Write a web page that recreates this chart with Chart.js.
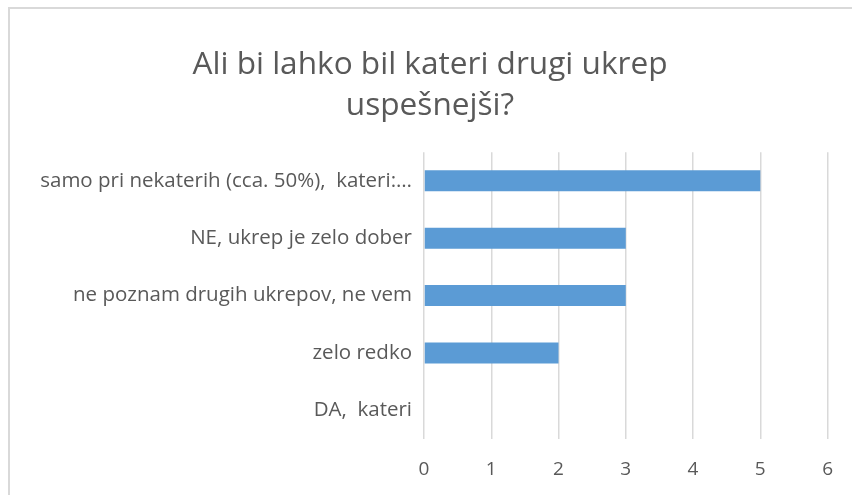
<!DOCTYPE html>
<html>
<head>
<meta charset="utf-8">
<script src="https://cdn.jsdelivr.net/npm/chart.js@4"></script>
<style>
  html, body { margin: 0; padding: 0; background: #fff; }
  #wrap { position: relative; width: 852px; height: 495px; overflow: hidden; }
  #frame { position: absolute; left: 8px; top: 7px; width: 900px; height: 600px;
           border-left: 2px solid #d9d9d9; border-top: 2px solid #d9d9d9; }
  canvas { position: absolute; left: 0; top: 0; }
</style>
</head>
<body>
<div id="wrap">
  <div id="frame"></div>
  <canvas id="chart" width="852" height="495"></canvas>
</div>
<script>
// podatki
const categories = [
    'samo pri nekaterih (cca. 50%),  kateri:…',
    'NE, ukrep je zelo dober',
    'ne poznam drugih ukrepov, ne vem',
    'zelo redko',
    'DA,  kateri'
];
const counts = [5, 3, 3, 2, 0];
const xTicks = [0, 1, 2, 3, 4, 5, 6];
const titleLines = ['Ali bi lahko bil kateri drugi ukrep', 'uspešnejši?'];

const textColor = '#595959';
const fontFamily = '"Open Sans", sans-serif';

const ctx = document.getElementById('chart').getContext('2d');
new Chart(ctx, {
    type: 'bar',
    data: {
        labels: categories,
        datasets: [{
            data: counts,
            backgroundColor: '#5b9bd5',
            borderWidth: 0,
            categoryPercentage: 1,
            barPercentage: 0.365
        }]
    },
    options: {
        indexAxis: 'y',
        responsive: false,
        animation: false,
        layout: { autoPadding: false, padding: { top: 44, right: 24, left: 32, bottom: 0 } },
        plugins: {
            legend: { display: false },
            tooltip: { enabled: false },
            title: {
                display: true,
                text: titleLines,
                color: textColor,
                font: { family: fontFamily, size: 31.6, weight: 'normal', lineHeight: 1.3 },
                padding: { top: 0, bottom: 26 }
            }
        },
        scales: {
            x: {
                min: 0,
                max: 6,
                afterBuildTicks: s => { s.ticks = xTicks.map(v => ({ value: v })); },
                grid: { color: '#d9d9d9', lineWidth: 1.5, drawTicks: false },
                border: { display: false },
                ticks: { color: textColor, padding: 19, font: { family: fontFamily, size: 19 } },
                afterFit: s => { s.height = 56; }
            },
            y: {
                grid: { display: false },
                border: { display: false },
                ticks: { color: textColor, padding: 4, font: { family: fontFamily, size: 20.5 } },
                afterFit: s => { s.width = 392; }
            }
        }
    }
});
</script>
</body>
</html>
